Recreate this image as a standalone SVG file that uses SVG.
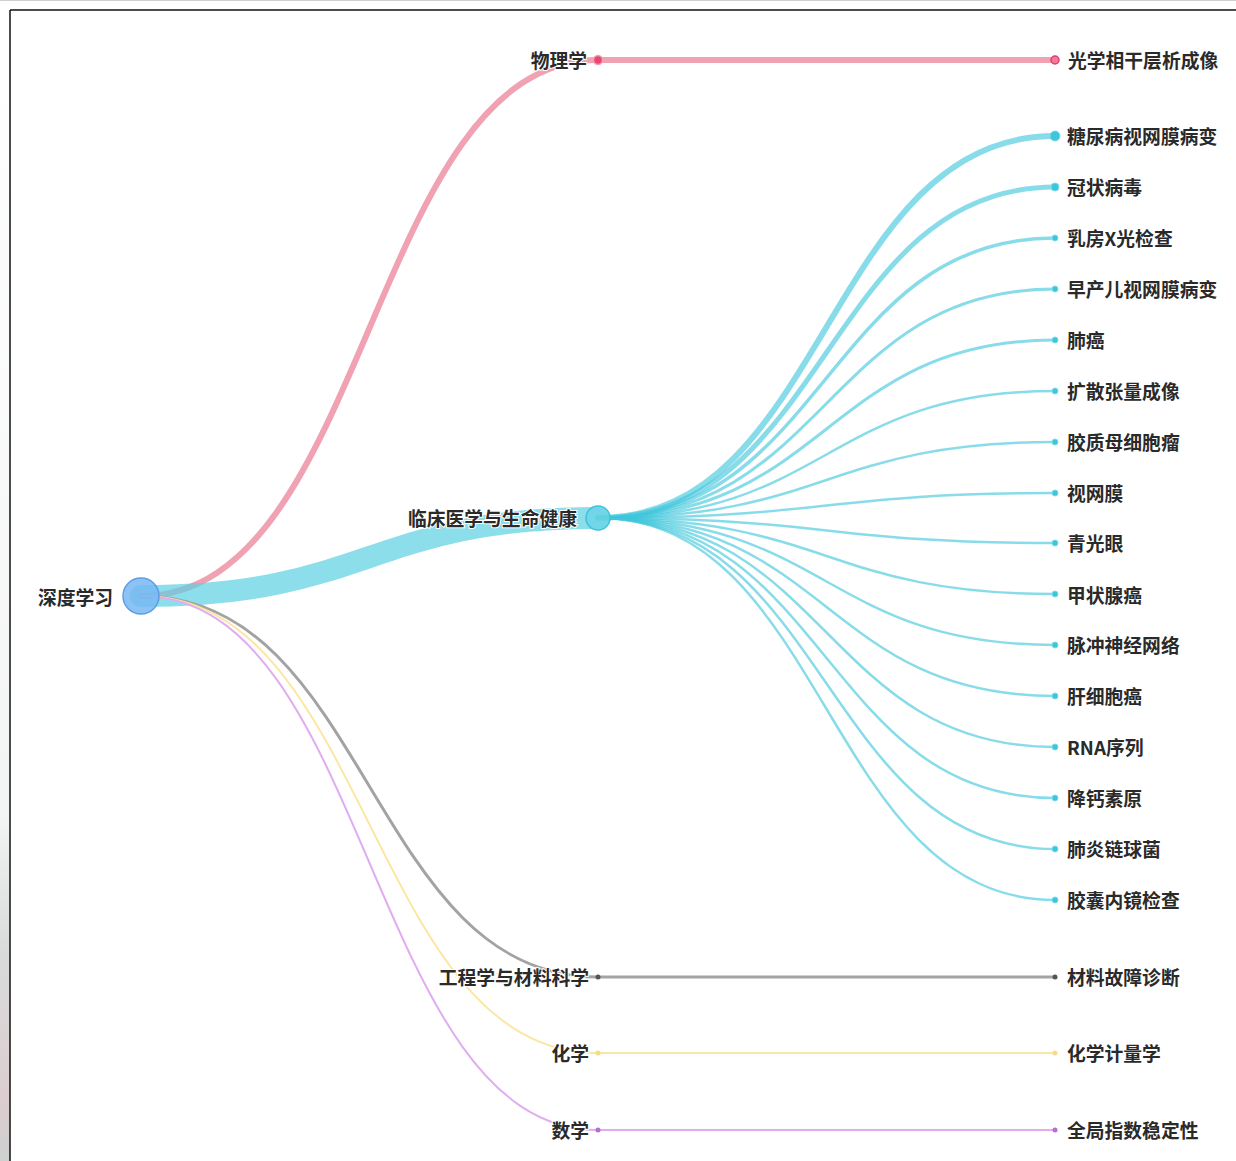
<svg xmlns="http://www.w3.org/2000/svg" width="1236" height="1161" viewBox="0 0 1236 1161">
  <defs>
    <linearGradient id="stripGrad" x1="0" y1="0" x2="0" y2="1">
      <stop offset="0" stop-color="#ffffff"/>
      <stop offset="0.7" stop-color="#f3f4f4"/>
      <stop offset="0.82" stop-color="#d8dbda"/>
      <stop offset="0.95" stop-color="#dccdd0"/>
      <stop offset="1" stop-color="#cdd0cf"/>
    </linearGradient>
  </defs>
  <style>
    .lbl { font-family: "Noto Sans CJK SC", "Noto Sans", sans-serif; font-size: 18.8px; font-weight: 700; fill: #2a2a2a; stroke: #fff; stroke-width: 2px; paint-order: stroke; dominant-baseline: central; }
    .r { text-anchor: end; }
    .l { text-anchor: start; }
    .e { fill: none; stroke-linecap: round; }
    .med { stroke: #3fc6dc; stroke-opacity: 0.62; }
    .leafdot { fill: #3cc6dc; stroke: #7fd9e6; stroke-width: 1; }
  </style>

  <!-- page backdrop and frame -->
  <rect x="0" y="0" width="1236" height="1161" fill="#ffffff"/>
  <rect x="0" y="0" width="10" height="1161" fill="url(#stripGrad)"/>
  <line x1="0" y1="0.5" x2="1236" y2="0.5" stroke="#d0d0d0" stroke-width="1"/>
  <line x1="10" y1="10" x2="1236" y2="10" stroke="#111" stroke-width="1.5"/>
  <line x1="10" y1="10" x2="10" y2="1161" stroke="#111" stroke-width="1.5"/>

  <!-- connectors -->
  <g id="connectors">
    <!-- root to branches -->
    <path class="e" d="M141,596 C369.5,596 369.5,60 598,60" stroke="#f0a2b3" stroke-width="6"/>
    <path class="e" d="M141,596 C369.5,596 369.5,518 598,518" stroke="#5bd0e2" stroke-opacity="0.7" stroke-width="22" stroke-linecap="butt"/>
    <path class="e" d="M141,596 C369.5,596 369.5,977 598,977" stroke="#a3a3a3" stroke-width="3"/>
    <path class="e" d="M141,596 C369.5,596 369.5,1053 598,1053" stroke="#fbe7a4" stroke-width="2"/>
    <path class="e" d="M141,596 C369.5,596 369.5,1130 598,1130" stroke="#e2adf0" stroke-width="2"/>

    <!-- branches to leaves -->
    <path class="e" d="M598,60 L1055,60" stroke="#f0a2b3" stroke-width="6"/>
    <path class="e" d="M598,977 L1055,977" stroke="#a3a3a3" stroke-width="3"/>
    <path class="e" d="M598,1053 L1055,1053" stroke="#fbe7a4" stroke-width="2"/>
    <path class="e" d="M598,1130 L1055,1130" stroke="#e2adf0" stroke-width="2"/>

    <g class="med">
      <path class="e" d="M598,518 C826.5,518 826.5,136 1055,136" stroke-width="6"/>
      <path class="e" d="M598,518 C826.5,518 826.5,187 1055,187" stroke-width="5"/>
      <path class="e" d="M598,518 C826.5,518 826.5,238 1055,238" stroke-width="3.5"/>
      <path class="e" d="M598,518 C826.5,518 826.5,289 1055,289" stroke-width="3"/>
      <path class="e" d="M598,518 C826.5,518 826.5,340 1055,340" stroke-width="3"/>
      <path class="e" d="M598,518 C826.5,518 826.5,391 1055,391" stroke-width="2.5"/>
      <path class="e" d="M598,518 C826.5,518 826.5,442 1055,442" stroke-width="2.5"/>
      <path class="e" d="M598,518 C826.5,518 826.5,493 1055,493" stroke-width="2.5"/>
      <path class="e" d="M598,518 C826.5,518 826.5,543 1055,543" stroke-width="2.5"/>
      <path class="e" d="M598,518 C826.5,518 826.5,594 1055,594" stroke-width="2.5"/>
      <path class="e" d="M598,518 C826.5,518 826.5,645 1055,645" stroke-width="2.5"/>
      <path class="e" d="M598,518 C826.5,518 826.5,696 1055,696" stroke-width="2.5"/>
      <path class="e" d="M598,518 C826.5,518 826.5,747 1055,747" stroke-width="2.5"/>
      <path class="e" d="M598,518 C826.5,518 826.5,798 1055,798" stroke-width="2.5"/>
      <path class="e" d="M598,518 C826.5,518 826.5,849 1055,849" stroke-width="2.5"/>
      <path class="e" d="M598,518 C826.5,518 826.5,900 1055,900" stroke-width="2.5"/>
    </g>
  </g>

  <!-- root -->
  <g id="node-root">
    <circle cx="141" cy="596" r="18" fill="#78b9f2" fill-opacity="0.85" stroke="#5c9ee6" stroke-width="1.5"/>
    <text class="lbl r" x="113" y="596">深度学习</text>
  </g>

  <!-- branches -->
  <g id="node-physics">
    <circle cx="598" cy="60" r="4.5" fill="#e8476f" stroke="#f2a0b2" stroke-width="1.5"/>
    <text class="lbl r" x="587" y="59">物理学</text>
  </g>
  <g id="node-clinical">
    <circle cx="598" cy="518" r="12" fill="#6ad3e6" fill-opacity="0.8" stroke="#3cc2da" stroke-width="1.5"/>
    <text class="lbl r" x="577" y="517">临床医学与生命健康</text>
  </g>
  <g id="node-engineering">
    <circle cx="598" cy="977" r="2.5" fill="#555"/>
    <text class="lbl r" x="589" y="976">工程学与材料科学</text>
  </g>
  <g id="node-chemistry">
    <circle cx="598" cy="1053" r="2.5" fill="#f5dc8a"/>
    <text class="lbl r" x="589" y="1052">化学</text>
  </g>
  <g id="node-math">
    <circle cx="598" cy="1130" r="2.5" fill="#b56fd0"/>
    <text class="lbl r" x="589" y="1129">数学</text>
  </g>

  <!-- leaves -->
  <g id="leaf-oct">
    <circle cx="1055" cy="60" r="4" fill="#f27a96" stroke="#e0406a" stroke-width="1.5"/>
    <text class="lbl l" x="1068" y="59">光学相干层析成像</text>
  </g>
  <g id="leaf-dr">
    <circle class="leafdot" cx="1055" cy="136" r="5"/>
    <text class="lbl l" x="1067" y="135">糖尿病视网膜病变</text>
  </g>
  <g id="leaf-covid">
    <circle class="leafdot" cx="1055" cy="187" r="4"/>
    <text class="lbl l" x="1067" y="186">冠状病毒</text>
  </g>
  <g id="leaf-mammo">
    <circle class="leafdot" cx="1055" cy="238" r="3"/>
    <text class="lbl l" x="1067" y="237">乳房X光检查</text>
  </g>
  <g id="leaf-rop">
    <circle class="leafdot" cx="1055" cy="289" r="3"/>
    <text class="lbl l" x="1067" y="288">早产儿视网膜病变</text>
  </g>
  <g id="leaf-lung">
    <circle class="leafdot" cx="1055" cy="340" r="3"/>
    <text class="lbl l" x="1067" y="339">肺癌</text>
  </g>
  <g id="leaf-dti">
    <circle class="leafdot" cx="1055" cy="391" r="3"/>
    <text class="lbl l" x="1067" y="390">扩散张量成像</text>
  </g>
  <g id="leaf-gbm">
    <circle class="leafdot" cx="1055" cy="442" r="3"/>
    <text class="lbl l" x="1067" y="441">胶质母细胞瘤</text>
  </g>
  <g id="leaf-retina">
    <circle class="leafdot" cx="1055" cy="493" r="3"/>
    <text class="lbl l" x="1067" y="492">视网膜</text>
  </g>
  <g id="leaf-glaucoma">
    <circle class="leafdot" cx="1055" cy="543" r="3"/>
    <text class="lbl l" x="1067" y="542">青光眼</text>
  </g>
  <g id="leaf-thyroid">
    <circle class="leafdot" cx="1055" cy="594" r="3"/>
    <text class="lbl l" x="1067" y="594">甲状腺癌</text>
  </g>
  <g id="leaf-snn">
    <circle class="leafdot" cx="1055" cy="645" r="3"/>
    <text class="lbl l" x="1067" y="644">脉冲神经网络</text>
  </g>
  <g id="leaf-hcc">
    <circle class="leafdot" cx="1055" cy="696" r="3"/>
    <text class="lbl l" x="1067" y="695">肝细胞癌</text>
  </g>
  <g id="leaf-rna">
    <circle class="leafdot" cx="1055" cy="747" r="3"/>
    <text class="lbl l" x="1067" y="746">RNA序列</text>
  </g>
  <g id="leaf-pct">
    <circle class="leafdot" cx="1055" cy="798" r="3"/>
    <text class="lbl l" x="1067" y="797">降钙素原</text>
  </g>
  <g id="leaf-pneumo">
    <circle class="leafdot" cx="1055" cy="849" r="3"/>
    <text class="lbl l" x="1067" y="848">肺炎链球菌</text>
  </g>
  <g id="leaf-capsule">
    <circle class="leafdot" cx="1055" cy="900" r="3"/>
    <text class="lbl l" x="1067" y="899">胶囊内镜检查</text>
  </g>
  <g id="leaf-fault">
    <circle cx="1055" cy="977" r="2.5" fill="#555"/>
    <text class="lbl l" x="1067" y="976">材料故障诊断</text>
  </g>
  <g id="leaf-chemometrics">
    <circle cx="1055" cy="1053" r="2.5" fill="#f5dc8a"/>
    <text class="lbl l" x="1067" y="1052">化学计量学</text>
  </g>
  <g id="leaf-stability">
    <circle cx="1055" cy="1130" r="2.5" fill="#b56fd0"/>
    <text class="lbl l" x="1067" y="1129">全局指数稳定性</text>
  </g>
</svg>
